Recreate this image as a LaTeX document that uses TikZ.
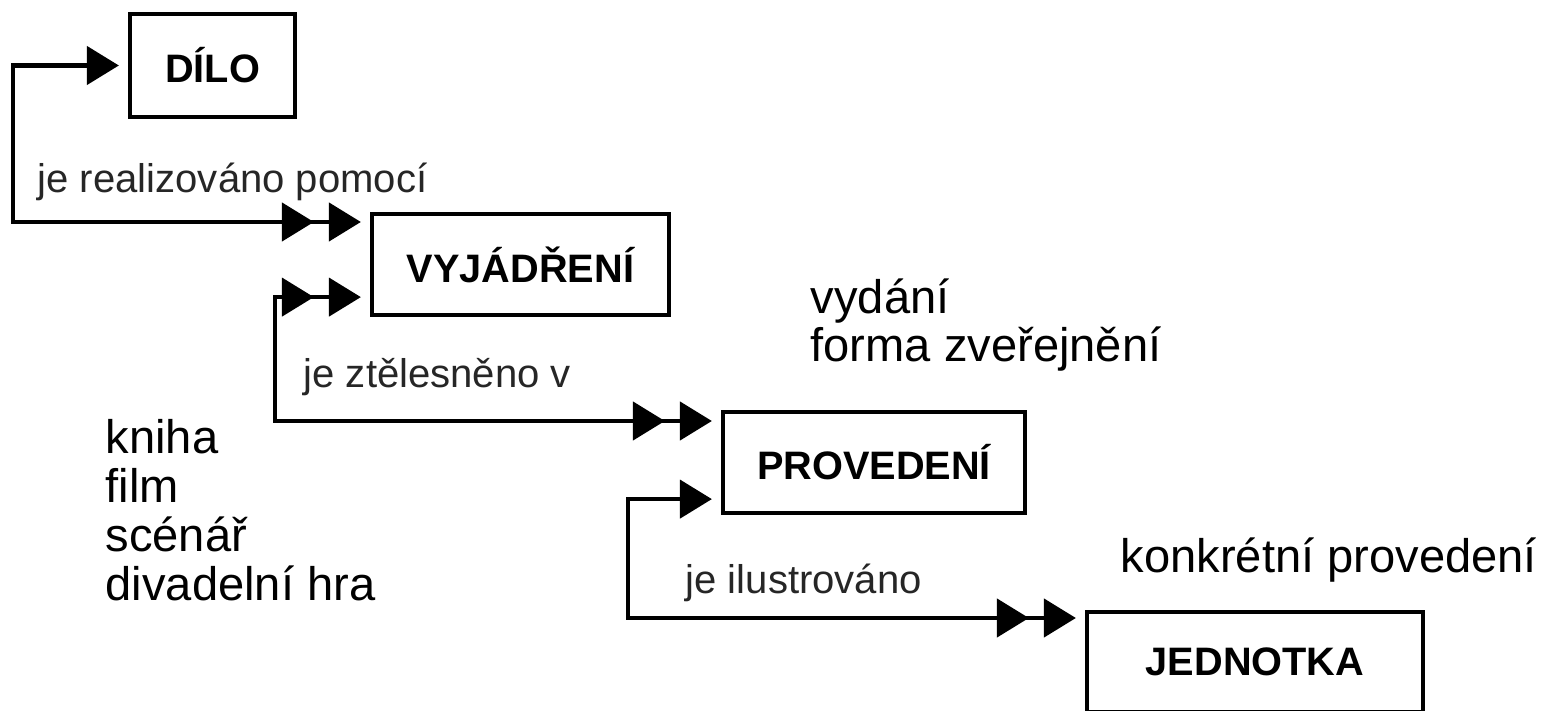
\documentclass[tikz,border=0pt]{standalone}
\usepackage{fontspec}
\setmainfont{Liberation Sans}
\usetikzlibrary{arrows.meta,decorations.markings,calc}

\tikzset{
  rtip/.tip={Triangle[length=0.32cm,width=0.38cm]},
  box/.style={draw, line width=1.2pt, inner sep=0pt, font=\bfseries\fontsize{11.3}{13}\selectfont},
  link/.style={line width=1.3pt, shorten <=0.09cm, shorten >=0.09cm},
  twoend/.style={postaction={decorate, decoration={markings, mark=at position -0.56cm with {\arrow{rtip}}}}},
  twostart/.style={postaction={decorate, decoration={markings, mark=at position 0.56cm with {\arrowreversed{rtip}}}}},
  rel/.style={font=\fontsize{11.4}{13}\selectfont, text=black!85, inner sep=0pt, anchor=base west},
  note/.style={font=\fontsize{13.4}{13.9}\selectfont, inner sep=0pt, anchor=base west, align=left},
}

\begin{document}
\begin{tikzpicture}
    \useasboundingbox (0,0) rectangle (15.48,7.10);

    \node[box, minimum width=1.65cm, minimum height=1.03cm] (dilo) at (2.125,6.445) {DÍLO};
    \node[box, minimum width=2.97cm, minimum height=1.01cm] (vyj) at (5.205,4.455) {VYJÁDŘENÍ};
    \node[box, minimum width=3.02cm, minimum height=1.01cm] (prov) at (8.74,2.475) {PROVEDENÍ};
    \node[box, minimum width=3.36cm, minimum height=1.00cm] (jedn) at (12.55,0.48) {JEDNOTKA};

    \coordinate (k1) at (0.13,4.88);
    \coordinate (k2) at (2.75,2.89);
    \coordinate (k3) at (6.28,0.92);

    \draw[link, twoend, {rtip}-{rtip}] (dilo.west) -| (k1) -- (k1 -| vyj.west);
    \draw[link, twostart, twoend, {rtip}-{rtip}] ($(vyj.south west)+(0,0.2)$) -| (k2) -- (k2 -| prov.west);
    \draw[link, twoend, {rtip}-{rtip}] ($(prov.south west)+(0,0.16)$) -| (k3) -- (k3 -| jedn.west);

    \node[rel] (l1) at (0.37,5.17) {je realizováno pomocí};
    \node[rel] (l2) at (3.03,3.22) {je ztělesněno v};
    \node[rel] (l3) at (6.85,1.17) {je ilustrováno};

    \node[note] (vyd) at (8.10,3.48) {vydání\\forma zveřejnění};
    \node[note] (kniha) at (1.05,1.10) {kniha\\film\\scénář\\divadelní hra};
    \node[note] (konk) at (11.20,1.38) {konkrétní provedení};
\end{tikzpicture}
\end{document}
